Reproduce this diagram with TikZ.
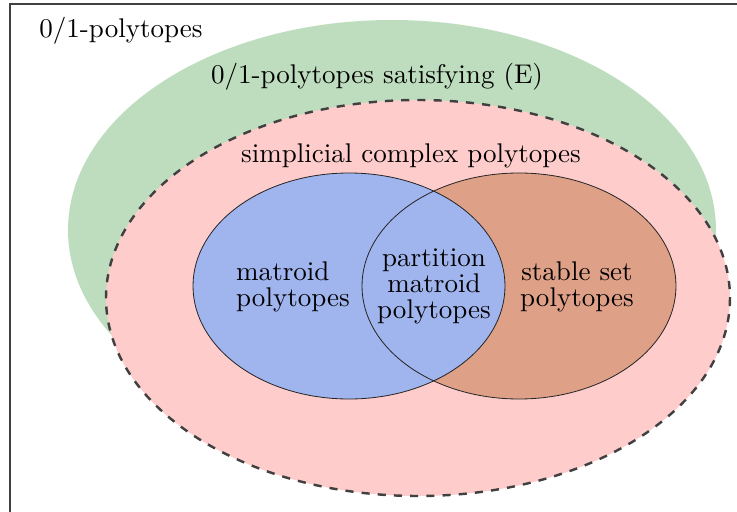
\documentclass[tikz,border=0pt]{standalone}
\usepackage{xcolor}
\usetikzlibrary{positioning}
\definecolor{egreen}{RGB}{190,221,190}
\definecolor{scpink}{RGB}{255,204,204}
\definecolor{matblue}{RGB}{160,180,238}
\definecolor{ssorange}{RGB}{222,160,135}

\begin{document}
\begin{tikzpicture}[x=0.37pt,y=-0.37pt,
		every node/.style={font=\fontsize{10}{9.6}\selectfont,inner sep=0pt},
		setline/.style={draw=black!85,line width=0.3pt}]
		\clip (0,0) rectangle (737,512);
		\draw[black!75,line width=0.6pt] (10,4) rectangle (780,560);
		%
		\coordinate (ce) at (392,230);
		\coordinate (cs) at (418,298);
		\coordinate (cm) at (349,286);
		\coordinate (cp) at (519,286);
		%
		\fill[egreen] (ce) ellipse [x radius=324,y radius=210];
		\fill[scpink] (cs) ellipse [x radius=312,y radius=198];
		\draw[black!75,line width=0.9pt,dashed] (cs) ellipse [x radius=312,y radius=198];
		\fill[ssorange] (cp) ellipse [x radius=157,y radius=113];
		\fill[matblue] (cm) ellipse [x radius=156,y radius=113];
		\draw[setline] (cp) ellipse [x radius=157,y radius=113];
		\draw[setline] (cm) ellipse [x radius=156,y radius=113];
		%
		\node (allpoly) at (121,31) {0/1-polytopes};
		\node (epoly) at (377,77) {0/1-polytopes satisfying (E)};
		\node (simpl) at (411,156) {simplicial complex polytopes};
		\node[align=left] (matr) at (293,287) {matroid\\polytopes};
		\node[align=center] (part) at (434,286) {partition\\matroid\\polytopes};
		\node[align=center] (stab) at (577,287) {stable set\\polytopes};
\end{tikzpicture}
\end{document}
